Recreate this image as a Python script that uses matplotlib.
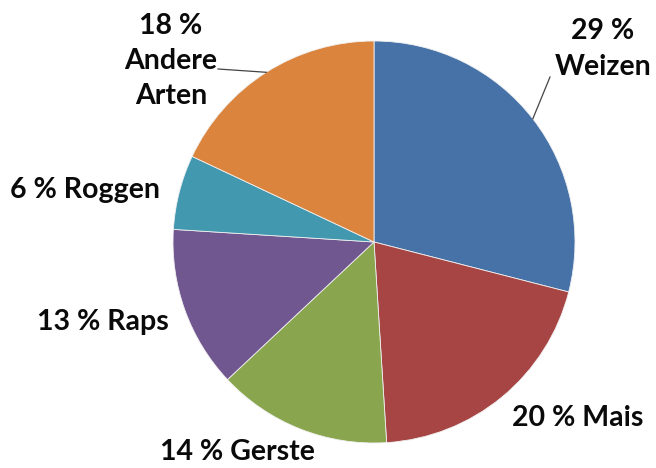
import numpy as np
import matplotlib.pyplot as plt

# Anbauflächen nach Kulturart (Anteile in %)
kulturen = ['Weizen', 'Mais', 'Gerste', 'Raps', 'Roggen', 'Andere\nArten']
anteile = [29, 20, 14, 13, 6, 18]
farben = ['#4672A8', '#A64543', '#89A54E', '#71578F', '#4198AF', '#DB843D']

plt.rcParams['font.family'] = ['Lato', 'DejaVu Sans']

W, H = 656, 468
fig = plt.figure(figsize=(W / 100, H / 100), dpi=100)
ax = fig.add_axes([0, 0, 1, 1])

cx, cy, r = 374, H - 242, 201
wedges, _ = ax.pie(anteile, colors=farben, startangle=90, counterclock=False,
                   center=(cx, cy), radius=r, frame=True,
                   wedgeprops=dict(linewidth=0.6, edgecolor='#f0f0f0'))
ax.set_xlim(0, W)
ax.set_ylim(0, H)
ax.set_aspect('equal')
ax.axis('off')

# Beschriftungen: Textposition (Pixel von oben links), mit/ohne Führungslinie
pos = {
    'Weizen': (603, 49),
    'Mais': (578, 418),
    'Gerste': (237, 452),
    'Raps': (103, 322),
    'Roggen': (85, 190),
    'Andere\nArten': (171, 61),
}
fuehrung = {'Weizen': (550, 77), 'Andere\nArten': (218, 69)}

winkel = 90.0
for name, wert in zip(kulturen, anteile):
    mitte = np.deg2rad(winkel - wert * 360 / 100 / 2)
    winkel -= wert * 360 / 100
    x, y = pos[name]
    if '\n' in name or name == 'Weizen':
        txt = f'{wert} %\n{name}'
    else:
        txt = f'{wert} % {name}'
    ax.text(x, H - y, txt, ha='center', va='center', fontsize=20.5,
            fontweight='bold', color='#0a0a0a', linespacing=1.45)
    if name in fuehrung:
        sx, sy = fuehrung[name]
        ex, ey = cx + r * np.cos(mitte), cy + r * np.sin(mitte)
        ax.plot([sx, ex], [H - sy, ey], color='#444444', lw=0.9)

fig.savefig('out.png', dpi=100)
